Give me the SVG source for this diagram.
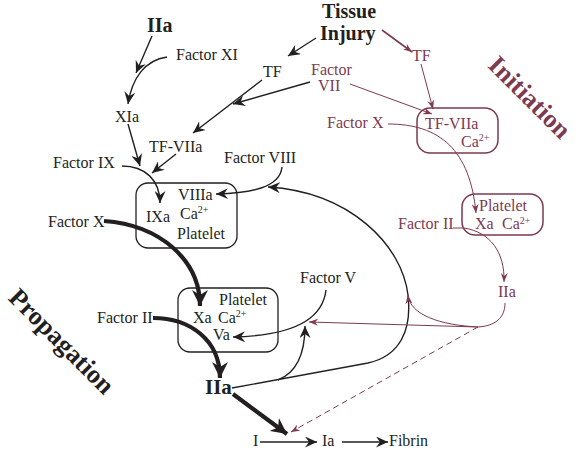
<svg xmlns="http://www.w3.org/2000/svg" width="579" height="452" viewBox="0 0 579 452">
<style>
text{font-family:"Liberation Serif","Times New Roman",serif;font-size:16px;fill:#231f20}
.m{fill:#7d3a50}
.b{font-weight:bold;font-size:21px}
.big{font-weight:bold;font-size:26px}
.sup{font-size:10px}
.box{fill:none;stroke:#231f20;stroke-width:1.3}
.mbox{fill:none;stroke:#7d3a50;stroke-width:1.5}
.k{fill:none;stroke:#231f20;stroke-width:1.4}
.kt{fill:none;stroke:#231f20;stroke-width:4.2}
.r{fill:none;stroke:#7d3a50;stroke-width:1}
</style>
<defs>
<marker id="ak" markerUnits="userSpaceOnUse" markerWidth="13" markerHeight="11" refX="12" refY="5.5" orient="auto" viewBox="0 0 13 11"><path d="M0,0 L12,5.5 L0,11 L4,5.5 z" fill="#231f20"/></marker>
<marker id="akt" markerUnits="userSpaceOnUse" markerWidth="17" markerHeight="16" refX="16" refY="8" orient="auto" viewBox="0 0 17 16"><path d="M0,0 L16,8 L0,16 L5,8 z" fill="#231f20"/></marker>
<marker id="am" markerUnits="userSpaceOnUse" markerWidth="10" markerHeight="7" refX="9" refY="3.5" orient="auto" viewBox="0 0 10 7"><path d="M0,0 L9,3.5 L0,7 L3,3.5 z" fill="#7d3a50"/></marker>
</defs>

<g id="connectors">
<path class="k" d="M152,36 L136,73" marker-end="url(#ak)"/>
<path class="k" d="M167,57 C145,60 132,78 128,104" marker-end="url(#ak)"/>
<path class="k" d="M128,124 L140,166" marker-end="url(#ak)"/>
<path class="k" d="M176,154 L152,173" marker-end="url(#ak)"/>
<path class="k" d="M122,166 C145,166 160,180 160,203" marker-end="url(#ak)"/>
<path class="k" d="M262,80 L193,133" marker-end="url(#ak)"/>
<path class="k" d="M310,82 L233,104" marker-end="url(#ak)"/>
<path class="k" d="M316,38 L288,56" marker-end="url(#ak)"/>
<path class="k" d="M282,167 C280,188 250,193 216,194" marker-end="url(#ak)"/>
<path class="k" d="M326,290 C322,325 280,336 233,337" marker-end="url(#ak)"/>
<path class="k" d="M232,388 L368,363 C400,356 412,330 408,295 C402,245 350,192 268,187" marker-end="url(#ak)"/>
<path class="k" d="M278,380 C298,372 305,352 305,326" marker-end="url(#ak)"/>
<path class="k" d="M260,442 L317,442" marker-end="url(#ak)"/>
<path class="k" d="M342,442 L388,442" marker-end="url(#ak)"/>
<path class="kt" d="M104,221 C160,225 200,260 200,306" marker-end="url(#akt)"/>
<path class="kt" d="M153,318 C190,318 220,340 220,378" marker-end="url(#akt)"/>
<path class="kt" d="M233,394 L287,434" marker-end="url(#akt)"/>
<path class="r" style="stroke-width:1.6" d="M382,30 L412,52" marker-end="url(#am)"/>
<path class="r" d="M421,64 L433,109" marker-end="url(#am)"/>
<path class="r" d="M350,84 L432,114" marker-end="url(#am)"/>
<path class="r" d="M388,124 C440,124 470,150 476,213" marker-end="url(#am)"/>
<path class="r" d="M453,228 L464,228 C490,232 505,252 504,282" marker-end="url(#am)"/>
<path class="r" d="M505,303 C505,318 495,326 478,327"/>
<path class="r" d="M478,327 L309,322" marker-end="url(#am)"/>
<path class="r" d="M478,327 C440,325 410,315 408,295" marker-end="url(#am)"/>
<path class="r" stroke-dasharray="6,4" d="M478,327 L291,432" marker-end="url(#am)"/>
</g>

<g id="IIa-top"><text class="b" x="147" y="32" style="font-size:20px">IIa</text></g>
<g id="factor-XI"><text x="176" y="60">Factor XI</text></g>
<g id="TF"><text x="263" y="77">TF</text></g>
<g id="tissue-injury"><text class="b" x="322" y="18" style="font-size:20px">Tissue</text><text class="b" x="320" y="40" style="font-size:20px">Injury</text></g>
<g id="TF-m"><text class="m" x="412" y="61">TF</text></g>
<g id="factor-VII"><text class="m" x="311" y="75">Factor</text><text class="m" x="318" y="91">VII</text></g>
<g id="initiation"><text class="big m" transform="translate(530,97) rotate(45)" x="0" y="9" text-anchor="middle">Initiation</text></g>
<g id="XIa"><text x="115" y="122">XIa</text></g>
<g id="TF-VIIa"><text x="149" y="152">TF-VIIa</text></g>
<g id="factor-IX"><text x="53" y="168">Factor IX</text></g>
<g id="factor-VIII"><text x="224" y="163">Factor VIII</text></g>
<g id="factor-X-m"><text class="m" x="327" y="128">Factor X</text></g>
<g id="box-TF-VIIa"><rect class="mbox" x="417" y="108" width="81" height="45" rx="13"/><text class="m" x="425" y="129">TF-VIIa</text><text class="m" x="461" y="147">Ca<tspan class="sup" dy="-6">2+</tspan></text></g>
<g id="box-IXa"><rect class="box" x="136" y="183" width="101" height="65" rx="12"/><text x="178" y="200">VIIIa</text><text x="146" y="222">IXa</text><text x="180" y="219">Ca<tspan class="sup" dy="-6">2+</tspan></text><text x="177" y="239">Platelet</text></g>
<g id="factor-X"><text x="48" y="227">Factor X</text></g>
<g id="box-platelet-m"><rect class="mbox" x="462" y="194" width="81" height="41" rx="13"/><text class="m" x="479" y="211">Platelet</text><text class="m" x="475" y="229">Xa</text><text class="m" x="502" y="229">Ca<tspan class="sup" dy="-5">2+</tspan></text></g>
<g id="factor-II-m"><text class="m" x="398" y="229">Factor II</text></g>
<g id="IIa-m"><text class="m" x="498" y="297">IIa</text></g>
<g id="factor-V"><text x="300" y="283">Factor V</text></g>
<g id="box-Xa"><rect class="box" x="178" y="288" width="100" height="64" rx="12"/><text x="219" y="305">Platelet</text><text x="193" y="323">Xa</text><text x="218" y="323">Ca<tspan class="sup" dy="-6">2+</tspan></text><text x="213" y="340">Va</text></g>
<g id="factor-II"><text x="97" y="323">Factor II</text></g>
<g id="propagation"><text class="big" transform="translate(62,341) rotate(45)" x="0" y="9" text-anchor="middle">Propagation</text></g>
<g id="IIa-bottom"><text class="b" x="205" y="394">IIa</text></g>
<g id="I"><text x="253" y="446">I</text></g>
<g id="Ia"><text x="322" y="446">Ia</text></g>
<g id="fibrin"><text x="389" y="446">Fibrin</text></g>
</svg>
